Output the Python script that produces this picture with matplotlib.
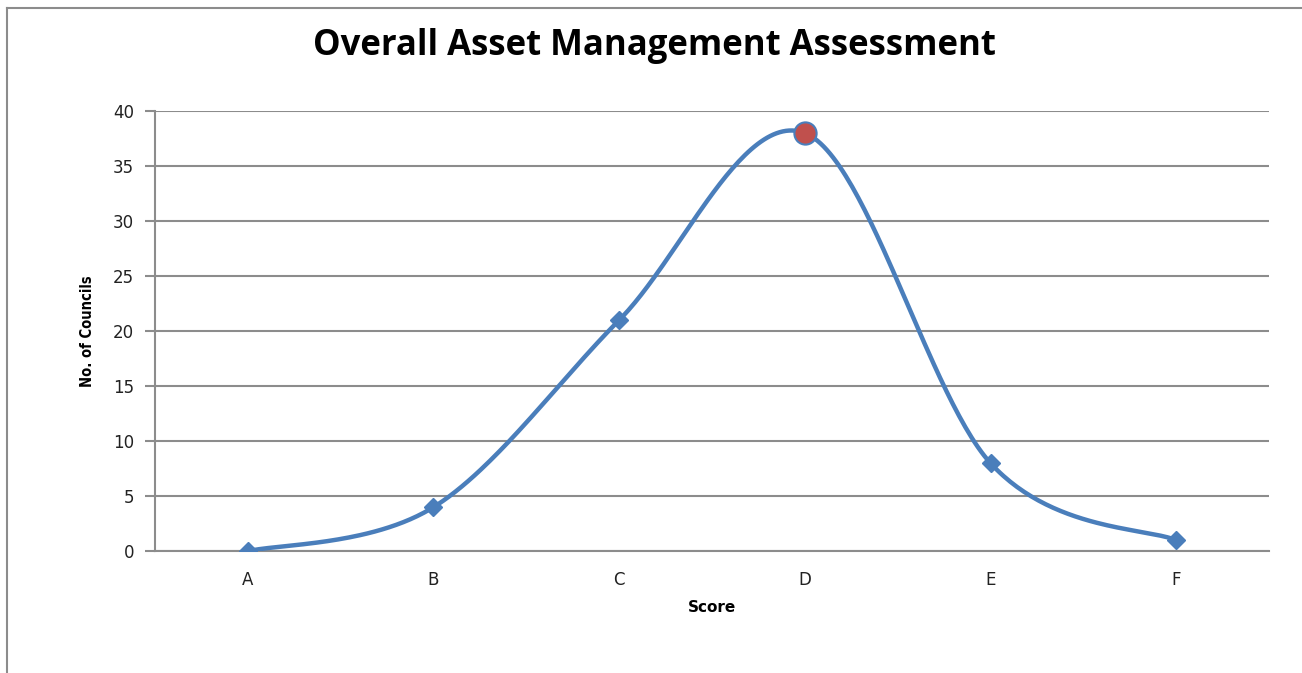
import numpy as np
import matplotlib.pyplot as plt
from matplotlib.lines import Line2D

# Councils per overall asset management score
scores = ['A', 'B', 'C', 'D', 'E', 'F']
councils = [0, 4, 21, 38, 8, 1]
highlight = 'D'

line_blue = '#4A7EBB'
grid_grey = '#8C8C8C'


def smooth_curve(xs, ys, steps=60):
    # Bezier segments with Catmull-Rom style control points (spreadsheet "smoothed line")
    xs = np.asarray(xs, float)
    ys = np.asarray(ys, float)
    n = len(xs)
    px, py = [], []
    for i in range(n - 1):
        x0, y0 = xs[i], ys[i]
        x3, y3 = xs[i + 1], ys[i + 1]
        xm, ym = (xs[i - 1], ys[i - 1]) if i > 0 else (x0, y0)
        xp, yp = (xs[i + 2], ys[i + 2]) if i + 2 < n else (x3, y3)
        x1, y1 = x0 + (x3 - xm) / 6, y0 + (y3 - ym) / 6
        x2, y2 = x3 - (xp - x0) / 6, y3 - (yp - y0) / 6
        t = np.linspace(0, 1, steps)
        a, b, c, d = (1 - t) ** 3, 3 * t * (1 - t) ** 2, 3 * t ** 2 * (1 - t), t ** 3
        px.append(a * x0 + b * x1 + c * x2 + d * x3)
        py.append(a * y0 + b * y1 + c * y2 + d * y3)
    return np.concatenate(px), np.concatenate(py)


fig = plt.figure(figsize=(13.02, 6.73), dpi=100)
ax = fig.add_axes([0.119, 0.181, 0.8557, 0.654])

xpos = np.arange(len(scores))
sx, sy = smooth_curve(xpos, councils)
ax.plot(sx, sy, color=line_blue, lw=3.2, solid_capstyle='round', zorder=3)
ax.plot(xpos, councils, ls='none', marker='D', ms=9, color=line_blue, zorder=4)

hi = scores.index(highlight)
ax.plot(xpos[hi], councils[hi], ls='none', marker='o', ms=16,
        markerfacecolor='#C0504D', markeredgecolor=line_blue, markeredgewidth=1.5, zorder=5)

ax.set_xlim(-0.5, len(scores) - 0.5)
ax.set_ylim(0, 40)
ax.set_yticks(range(0, 41, 5))
ax.set_xticks(xpos)
ax.set_xticklabels(scores)

ax.grid(axis='y', color=grid_grey, lw=1.5)
ax.set_axisbelow(True)
for side in ['top', 'right']:
    ax.spines[side].set_visible(False)
for side in ['left', 'bottom']:
    ax.spines[side].set_color(grid_grey)
    ax.spines[side].set_linewidth(1.5)
ax.tick_params(axis='y', length=7, width=1.5, color=grid_grey, labelsize=12, labelcolor='#222222', pad=8)
ax.tick_params(axis='x', length=0, labelsize=12, labelcolor='#222222', pad=14)

ax.set_xlabel('Score', fontsize=11, fontweight='bold', labelpad=8)
ax.set_ylabel('No. of Councils', fontsize=10.5, fontweight='bold', labelpad=13,
              fontstretch='condensed')

fig.text(0.503, 0.931, 'Overall Asset Management Assessment', ha='center', va='center',
         fontsize=25, fontweight='bold', family=['Open Sans', 'DejaVu Sans'])

# chart frame
fig.add_artist(Line2D([7 / 1302, 7 / 1302], [0, 1 - 8 / 673], color=grid_grey, lw=1.5))
fig.add_artist(Line2D([7 / 1302, 1], [1 - 8 / 673, 1 - 8 / 673], color=grid_grey, lw=1.5))

fig.savefig('out.png', dpi=100)
